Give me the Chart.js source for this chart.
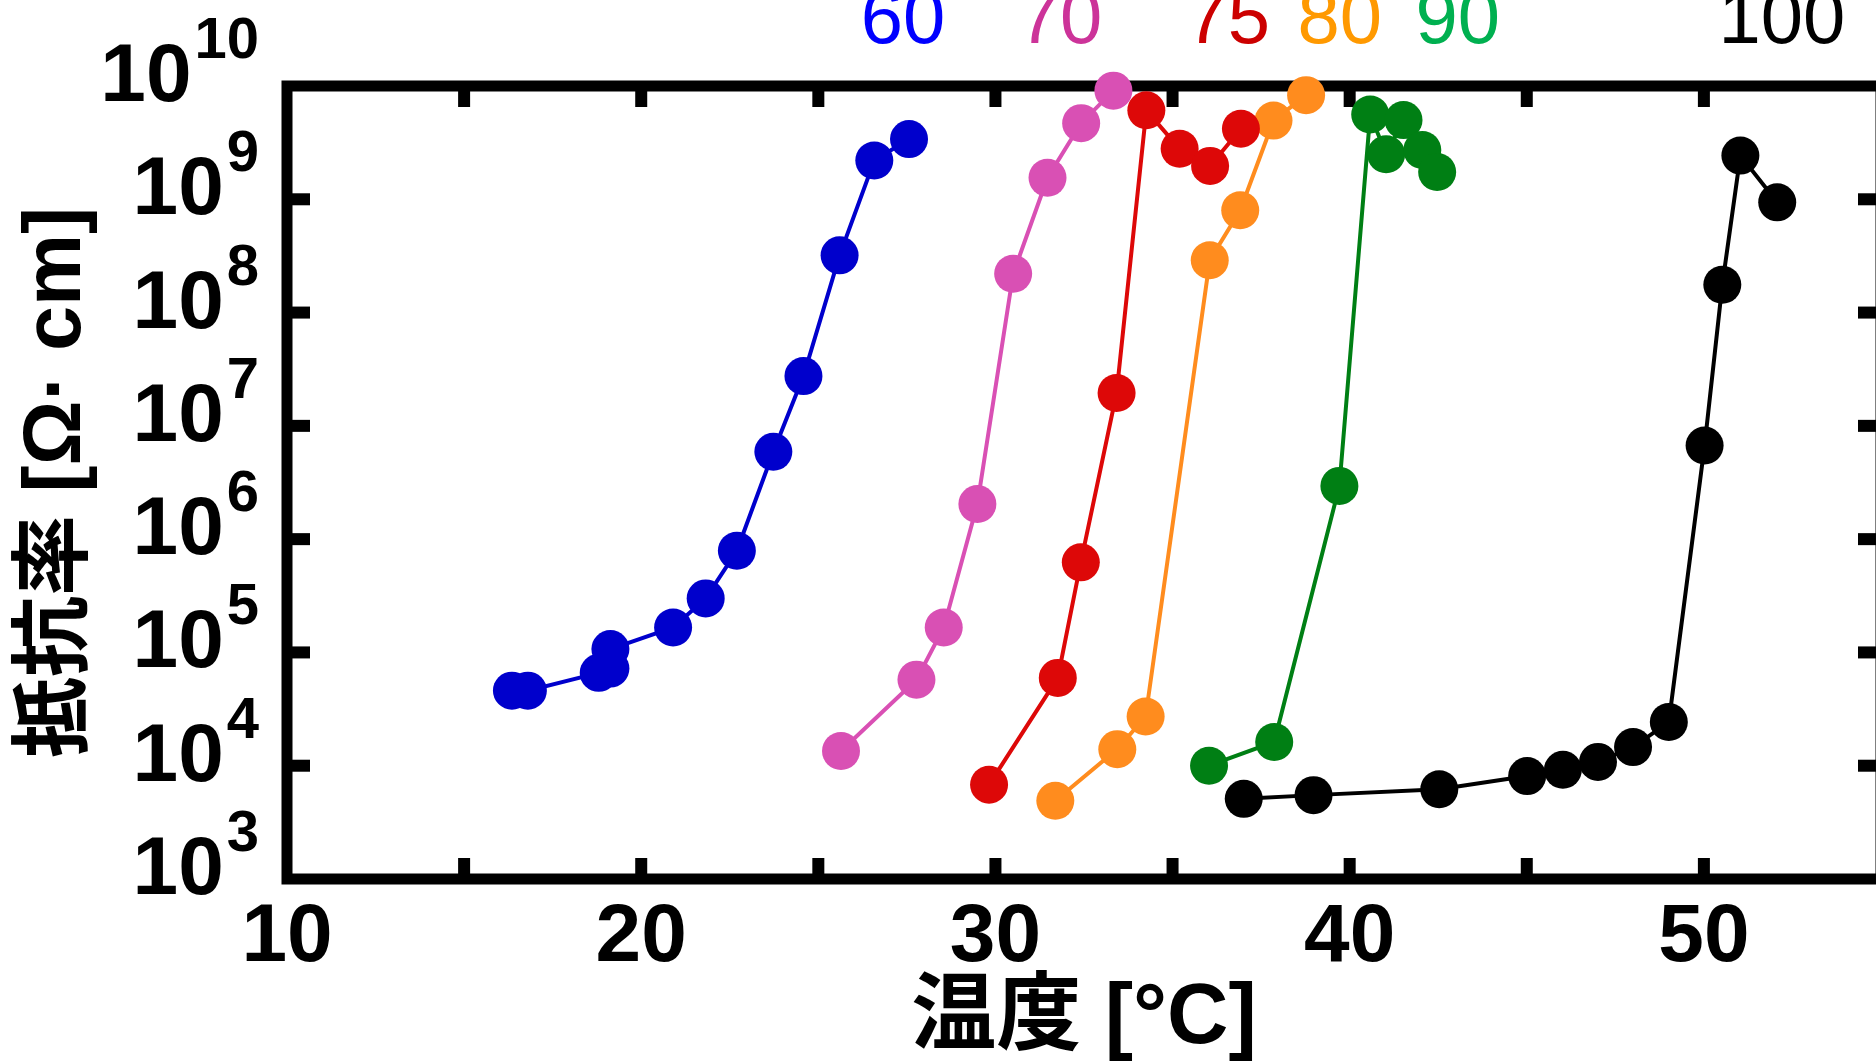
<!DOCTYPE html>
<html>
<head>
<meta charset="utf-8">
<script src="https://cdn.jsdelivr.net/npm/chart.js@4.4.1/dist/chart.umd.min.js"></script>
<style>
  html, body { margin: 0; padding: 0; background: #fff; overflow: hidden; }
  #wrap { width: 1900px; height: 1064px; }
</style>
</head>
<body>
<div id="wrap"><canvas id="chart" width="1900" height="1064"></canvas></div>
<script>
// temperature [°C] and resistivity [Ω·cm] per sample
const temp60 = [16.35, 16.8, 18.8, 19.13, 19.13, 20.9, 21.82, 22.7, 23.73, 24.58, 25.6, 26.58, 27.56]
const res60 = [4.6e4, 4.6e4, 6.6e4, 7.2e4, 1.07e5, 1.66e5, 3.0e5, 7.9e5, 5.9e6, 2.75e7, 3.2e8, 2.2e9, 3.4e9]

const temp70 = [25.64, 27.77, 28.54, 29.49, 30.5, 31.47, 32.42, 33.33]
const res70 = [1.35e4, 5.75e4, 1.66e5, 2.04e6, 2.2e8, 1.55e9, 4.7e9, 9.1e9]

const temp75 = [29.82, 31.76, 32.41, 33.42, 34.26, 35.2, 36.06, 36.93]
const res75 = [6.8e3, 5.96e4, 6.24e5, 1.95e7, 6.1e9, 2.79e9, 1.97e9, 4.2e9]

const temp80 = [31.69, 33.44, 34.24, 36.05, 36.91, 37.85, 38.77]
const res80 = [4.9e3, 1.4e4, 2.72e4, 2.9e8, 8.0e8, 4.95e9, 8.3e9]

const temp90 = [36.03, 37.87, 39.71, 40.58, 41.03, 41.52, 42.05, 42.47]
const res90 = [1.0e4, 1.62e4, 2.95e6, 5.6e9, 2.5e9, 5.0e9, 2.72e9, 1.74e9]

const temp100 = [37.01, 38.98, 42.53, 45.01, 46.02, 47.01, 48.0, 49.01, 50.02, 50.52, 51.03, 52.07]
const res100 = [5.1e3, 5.5e3, 6.2e3, 8.1e3, 9.2e3, 1.08e4, 1.46e4, 2.43e4, 6.7e6, 1.76e8, 2.43e9, 9.4e8]

const seriesNames = ['60', '70', '75', '80', '90', '100']
const labelTemp = [27.39, 31.82, 36.56, 39.72, 43.05, 52.2]   // where each name sits above the frame

const xLabels = [10, 20, 30, 40, 50]
const xMarks = [15, 20, 25, 30, 35, 40, 45, 50]
const yTicks = [1e3, 1e4, 1e5, 1e6, 1e7, 1e8, 1e9, 1e10]
const yMarks = [1e4, 1e5, 1e6, 1e7, 1e8, 1e9]

const pointColors = ['#0000cc', '#d950b4', '#dd0808', '#ff8c1e', '#007f14', '#000000']
const labelColors = ['#0000ff', '#cc3399', '#cc0000', '#ff9900', '#00b050', '#000000']

const FONT = '"Liberation Sans", "Noto Sans CJK JP", Arial, sans-serif'

const temps = [temp60, temp70, temp75, temp80, temp90, temp100]
const values = [res60, res70, res75, res80, res90, res100]

const datasets = temps.map((t, i) => ({
  label: seriesNames[i],
  data: t.map((v, j) => ({ x: v, y: values[i][j] })),
  borderColor: pointColors[i],
  backgroundColor: pointColors[i],
  pointBackgroundColor: pointColors[i],
  pointBorderColor: pointColors[i],
  borderWidth: 4,
  pointRadius: 19,
  pointBorderWidth: 0,
  tension: 0,
  clip: false
}))

const frame = {
  id: 'frame',
  beforeDatasetsDraw(chart) {
    const { ctx, chartArea: a, scales: { x, y } } = chart
    ctx.save()
    ctx.strokeStyle = '#000'
    ctx.lineWidth = 11
    ctx.strokeRect(a.left, a.top, a.right - a.left, a.bottom - a.top)
    ctx.fillStyle = '#000'
    xMarks.forEach(v => {
      const px = x.getPixelForValue(v)
      ctx.fillRect(px - 6, a.bottom - 21, 12, 21)
      ctx.fillRect(px - 6, a.top, 12, 21)
    })
    yMarks.forEach(v => {
      const py = y.getPixelForValue(v)
      ctx.fillRect(a.left, py - 6, 23, 12)
      ctx.fillRect(a.right - 23, py - 6, 23, 12)
    })
    ctx.restore()
  },
  afterDraw(chart) {
    const { ctx, chartArea: a, scales: { x, y } } = chart
    ctx.save()
    ctx.fillStyle = '#000'
    ctx.textAlign = 'right'
    ctx.textBaseline = 'alphabetic'
    const right = a.left - 28
    yTicks.forEach(v => {
      const py = y.getPixelForValue(v)
      const exp = String(Math.round(Math.log10(v)))
      ctx.font = 'bold 58px ' + FONT
      const ew = ctx.measureText(exp).width
      ctx.fillText(exp, right, py - 28)
      ctx.font = 'bold 82px ' + FONT
      ctx.fillText('10', right - ew - 3, py + 15)
    })

    ctx.textAlign = 'center'
    ctx.font = '76px ' + FONT
    seriesNames.forEach((name, i) => {
      ctx.fillStyle = labelColors[i]
      ctx.fillText(name, x.getPixelForValue(labelTemp[i]), 43)
    })
    ctx.restore()
  }
}

new Chart(document.getElementById('chart'), {
  type: 'line',
  data: { datasets },
  options: {
    responsive: false,
    animation: false,
    layout: { padding: { top: 86, right: 18, bottom: 0, left: 0 } },
    plugins: { legend: { display: false }, tooltip: { enabled: false } },
    scales: {
      x: {
        type: 'linear',
        min: 10,
        max: 55,
        grid: { display: false, drawTicks: false },
        border: { display: false },
        afterBuildTicks: scale => { scale.ticks = xLabels.map(v => ({ value: v })) },
        afterFit: scale => { scale.height = 1064 - 879 },
        ticks: {
          color: '#000',
          padding: 18,
          maxRotation: 0,
          autoSkip: false,
          font: { family: FONT, size: 82, weight: 'bold', lineHeight: 1 }
        },
        title: {
          display: true,
          text: '温度 [°C]',
          color: '#000',
          padding: { top: 0, bottom: 2 },
          font: { family: FONT, size: 85, weight: 'bold', lineHeight: 1 }
        }
      },
      y: {
        type: 'logarithmic',
        min: 1e3,
        max: 1e10,
        grid: { display: false, drawTicks: false },
        border: { display: false },
        afterBuildTicks: scale => { scale.ticks = yTicks.map(v => ({ value: v })) },
        afterFit: scale => { scale.width = 287 },
        ticks: { display: false },
        title: {
          display: true,
          text: '抵抗率 [Ω· cm]',
          color: '#000',
          padding: { top: 17, bottom: 0 },
          font: { family: FONT, size: 81, weight: 'bold', lineHeight: 1 }
        }
      }
    }
  },
  plugins: [frame]
})
</script>
</body>
</html>
